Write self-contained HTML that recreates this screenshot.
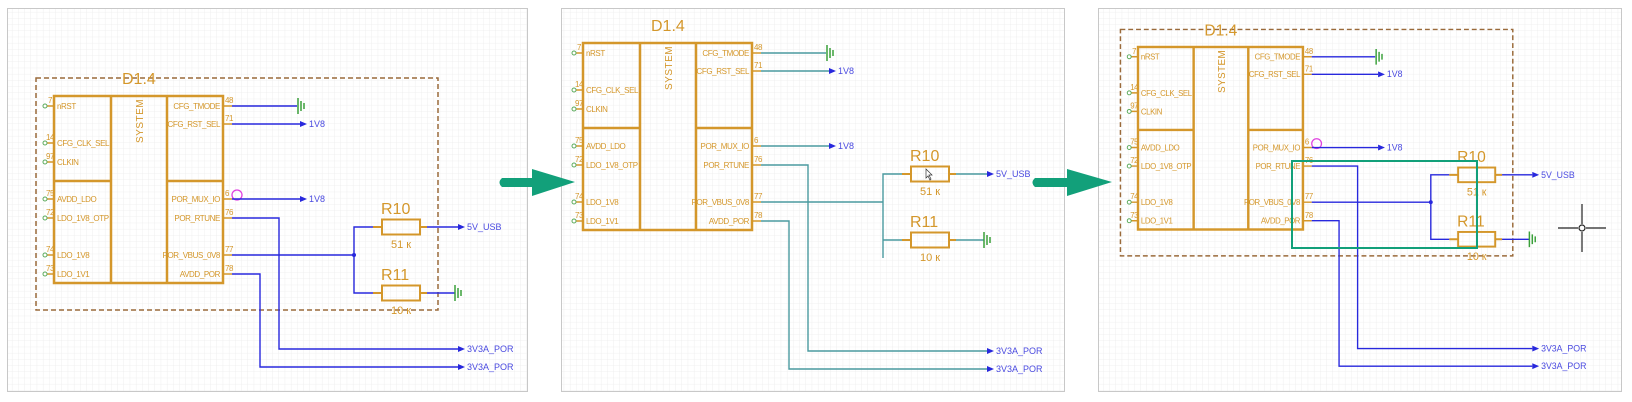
<!DOCTYPE html>
<html><head><meta charset="utf-8"><style>
html,body{margin:0;padding:0;background:#fff;}
svg{display:block}
text{font-family:"Liberation Sans",sans-serif;}
.o{fill:#d4972b}
.p{letter-spacing:-0.4px}
.nl{fill:#4a4ae0;font-size:9px}
</style></head><body>
<svg width="1632" height="402" viewBox="0 0 1632 402" xmlns="http://www.w3.org/2000/svg">
<defs>
<pattern id="g" width="6.2" height="6.2" patternUnits="userSpaceOnUse">
<path d="M6.2 0V6.2H0" fill="none" stroke="#ececec" stroke-width="0.8"/>
</pattern>
</defs>
<rect x="0" y="0" width="1632" height="402" fill="#fff"/>
<rect x="7.5" y="8.5" width="520" height="383" fill="url(#g)" stroke="#c8c8c8"/>
<rect x="561.5" y="8.5" width="503" height="383" fill="url(#g)" stroke="#c8c8c8"/>
<rect x="1098.5" y="8.5" width="523" height="383" fill="url(#g)" stroke="#c8c8c8"/>

<path d="M502 178 H532 V169 L575 182 L532 196 V187 H502 Q497 182.5 502 178Z" fill="#12a07a"/>
<path d="M1035 178 H1067 V169 L1112 182 L1067 196 V187 H1035 Q1030 182.5 1035 178Z" fill="#12a07a"/>

<!-- ===== PANEL 1 ===== -->
<g>
<rect x="36" y="78" width="402" height="232" fill="none" stroke="#9a6a3a" stroke-width="1.5" stroke-dasharray="5,3"/>
<text x="122" y="84" class="o" font-size="16">D1.4</text>
<g stroke="#d4972b" stroke-width="2.5" fill="none">
<rect x="54" y="96" width="169" height="187"/>
<path d="M111 96V283M167 96V283M54 181H111M167 181H223"/>
<path d="M46 106H54M46 143H54M46 162H54M46 199H54M46 218H54M46 255H54M46 274H54" stroke-width="1.5"/>
<path d="M223 106H232M223 124H232M223 199H232M223 218H232M223 255H232M223 274H232" stroke-width="1.5"/>
</g>
<g fill="#fff" stroke="#5aaa5a" stroke-width="1"><circle cx="45" cy="106" r="2"/><circle cx="45" cy="143" r="2"/><circle cx="45" cy="162" r="2"/><circle cx="45" cy="199" r="2"/><circle cx="45" cy="218" r="2"/><circle cx="45" cy="255" r="2"/><circle cx="45" cy="274" r="2"/></g>
<g class="o p" font-size="8">
<text x="57" y="109">nRST</text><text x="57" y="146">CFG_CLK_SEL</text><text x="57" y="165">CLKIN</text><text x="57" y="202">AVDD_LDO</text><text x="57" y="221">LDO_1V8_OTP</text><text x="57" y="258">LDO_1V8</text><text x="57" y="277">LDO_1V1</text>
<g text-anchor="end"><text x="220" y="109">CFG_TMODE</text><text x="220" y="127">CFG_RST_SEL</text><text x="220" y="202">POR_MUX_IO</text><text x="220" y="221">POR_RTUNE</text><text x="220" y="258">POR_VBUS_0V8</text><text x="220" y="277">AVDD_POR</text></g>
<g font-size="8"><text x="48" y="103">7</text><text x="46" y="140">14</text><text x="46" y="159">97</text><text x="46" y="196">75</text><text x="46" y="215">72</text><text x="46" y="252">74</text><text x="46" y="271">73</text>
<text x="225" y="103">48</text><text x="225" y="121">71</text><text x="225" y="196">6</text><text x="225" y="215">76</text><text x="225" y="252">77</text><text x="225" y="271">78</text></g>
<text transform="translate(143,143) rotate(-90)" font-size="10" letter-spacing="0.5">SYSTEM</text>
</g>
<circle cx="237" cy="195" r="5" fill="none" stroke="#e040e0" stroke-width="1.3"/>
<g stroke="#2828dd" stroke-width="1.4" fill="none">
<path d="M232 106H297M232 124H300M232 199H300M232 218H279V349H458M232 274H260V367H458M232 255H354M373 227H354V293H373M427 227H458M427 293H455"/>
</g>
<circle cx="354" cy="255" r="2" fill="#2828dd"/>
<g fill="#2828dd"><path d="M300 121L307 124L300 127Z"/><path d="M300 196L307 199L300 202Z"/><path d="M458 346L465 349L458 352Z"/><path d="M458 364L465 367L458 370Z"/><path d="M458 224L465 227L458 230Z"/></g>
<g stroke="#3aa03a" stroke-width="1.5"><path d="M298 98V114M301 101V111M304 103V109M455 285V301M458 288V298M461 290V296"/></g>
<g stroke="#d4972b" stroke-width="2" fill="none"><rect x="382" y="219.5" width="38" height="15"/><rect x="382" y="285.5" width="38" height="15"/><path d="M373 227H382M420 227H427M373 293H382M420 293H427"/></g>
<text x="381" y="214" class="o" font-size="16">R10</text><text x="391" y="248" class="o" font-size="11">51 к</text>
<text x="381" y="280" class="o" font-size="16">R11</text><text x="391" y="314" class="o" font-size="11">10 к</text>
<g class="nl"><text x="309" y="127">1V8</text><text x="309" y="202">1V8</text><text x="467" y="230">5V_USB</text><text x="467" y="352">3V3A_POR</text><text x="467" y="370">3V3A_POR</text></g>
</g>

<!-- ===== PANEL 2 ===== -->
<g transform="translate(529,-53)">
<text x="122" y="84" class="o" font-size="16">D1.4</text>
<g stroke="#d4972b" stroke-width="2.5" fill="none">
<rect x="54" y="96" width="169" height="187"/>
<path d="M111 96V283M167 96V283M54 181H111M167 181H223"/>
<path d="M46 106H54M46 143H54M46 162H54M46 199H54M46 218H54M46 255H54M46 274H54" stroke-width="1.5"/>
<path d="M223 106H232M223 124H232M223 199H232M223 218H232M223 255H232M223 274H232" stroke-width="1.5"/>
</g>
<g fill="#fff" stroke="#5aaa5a" stroke-width="1"><circle cx="45" cy="106" r="2"/><circle cx="45" cy="143" r="2"/><circle cx="45" cy="162" r="2"/><circle cx="45" cy="199" r="2"/><circle cx="45" cy="218" r="2"/><circle cx="45" cy="255" r="2"/><circle cx="45" cy="274" r="2"/></g>
<g class="o p" font-size="8">
<text x="57" y="109">nRST</text><text x="57" y="146">CFG_CLK_SEL</text><text x="57" y="165">CLKIN</text><text x="57" y="202">AVDD_LDO</text><text x="57" y="221">LDO_1V8_OTP</text><text x="57" y="258">LDO_1V8</text><text x="57" y="277">LDO_1V1</text>
<g text-anchor="end"><text x="220" y="109">CFG_TMODE</text><text x="220" y="127">CFG_RST_SEL</text><text x="220" y="202">POR_MUX_IO</text><text x="220" y="221">POR_RTUNE</text><text x="220" y="258">POR_VBUS_0V8</text><text x="220" y="277">AVDD_POR</text></g>
<g font-size="8"><text x="48" y="103">7</text><text x="46" y="140">14</text><text x="46" y="159">97</text><text x="46" y="196">75</text><text x="46" y="215">72</text><text x="46" y="252">74</text><text x="46" y="271">73</text>
<text x="225" y="103">48</text><text x="225" y="121">71</text><text x="225" y="196">6</text><text x="225" y="215">76</text><text x="225" y="252">77</text><text x="225" y="271">78</text></g>
<text transform="translate(143,143) rotate(-90)" font-size="10" letter-spacing="0.5">SYSTEM</text>
</g>
<g stroke="#4a9a9f" stroke-width="1.4" fill="none">
<path d="M232 106H297M232 124H300M232 199H300M232 218H279V404H458M232 274H260V422H458M232 255H354M373 227H354V311M354 293H373M427 227H458M427 293H455"/>
</g>
<g fill="#2828dd"><path d="M300 121L307 124L300 127Z"/><path d="M300 196L307 199L300 202Z"/><path d="M458 401L465 404L458 407Z"/><path d="M458 419L465 422L458 425Z"/><path d="M458 224L465 227L458 230Z"/></g>
<g stroke="#3aa03a" stroke-width="1.5"><path d="M298 98V114M301 101V111M304 103V109M455 285V301M458 288V298M461 290V296"/></g>
<g stroke="#d4972b" stroke-width="2" fill="none"><rect x="382" y="219.5" width="38" height="15"/><rect x="382" y="285.5" width="38" height="15"/><path d="M373 227H382M420 227H427M373 293H382M420 293H427"/></g>
<path d="M397 222V231L399 229L401 233L402 232L400 228H403Z" fill="#fff" stroke="#333" stroke-width="0.7"/>
<text x="381" y="214" class="o" font-size="16">R10</text><text x="391" y="248" class="o" font-size="11">51 к</text>
<text x="381" y="280" class="o" font-size="16">R11</text><text x="391" y="314" class="o" font-size="11">10 к</text>
<g class="nl"><text x="309" y="127">1V8</text><text x="309" y="202">1V8</text><text x="467" y="230">5V_USB</text><text x="467" y="407">3V3A_POR</text><text x="467" y="425">3V3A_POR</text></g>
</g>

<!-- ===== PANEL 3 ===== -->
<g transform="translate(1085.3,-46.7) scale(0.976)">
<rect x="36" y="78" width="402" height="232" fill="none" stroke="#9a6a3a" stroke-width="1.5" stroke-dasharray="5,3"/>
<text x="122" y="84" class="o" font-size="16">D1.4</text>
<g stroke="#d4972b" stroke-width="2.5" fill="none">
<rect x="54" y="96" width="169" height="187"/>
<path d="M111 96V283M167 96V283M54 181H111M167 181H223"/>
<path d="M46 106H54M46 143H54M46 162H54M46 199H54M46 218H54M46 255H54M46 274H54" stroke-width="1.5"/>
<path d="M223 106H232M223 124H232M223 199H232M223 218H232M223 255H232M223 274H232" stroke-width="1.5"/>
</g>
<g fill="#fff" stroke="#5aaa5a" stroke-width="1"><circle cx="45" cy="106" r="2"/><circle cx="45" cy="143" r="2"/><circle cx="45" cy="162" r="2"/><circle cx="45" cy="199" r="2"/><circle cx="45" cy="218" r="2"/><circle cx="45" cy="255" r="2"/><circle cx="45" cy="274" r="2"/></g>
<g class="o p" font-size="8">
<text x="57" y="109">nRST</text><text x="57" y="146">CFG_CLK_SEL</text><text x="57" y="165">CLKIN</text><text x="57" y="202">AVDD_LDO</text><text x="57" y="221">LDO_1V8_OTP</text><text x="57" y="258">LDO_1V8</text><text x="57" y="277">LDO_1V1</text>
<g text-anchor="end"><text x="220" y="109">CFG_TMODE</text><text x="220" y="127">CFG_RST_SEL</text><text x="220" y="202">POR_MUX_IO</text><text x="220" y="221">POR_RTUNE</text><text x="220" y="258">POR_VBUS_0V8</text><text x="220" y="277">AVDD_POR</text></g>
<g font-size="8"><text x="48" y="103">7</text><text x="46" y="140">14</text><text x="46" y="159">97</text><text x="46" y="196">75</text><text x="46" y="215">72</text><text x="46" y="252">74</text><text x="46" y="271">73</text>
<text x="225" y="103">48</text><text x="225" y="121">71</text><text x="225" y="196">6</text><text x="225" y="215">76</text><text x="225" y="252">77</text><text x="225" y="271">78</text></g>
<text transform="translate(143,143) rotate(-90)" font-size="10" letter-spacing="0.5">SYSTEM</text>
</g>
<circle cx="237" cy="195" r="5" fill="none" stroke="#e040e0" stroke-width="1.3"/>
<g stroke="#2828dd" stroke-width="1.4" fill="none">
<path d="M232 106H297M232 124H300M232 199H300M232 218H279V405H458M232 274H260V423H458M232 255H354M373 227H354V293H373M427 227H458M427 293H455"/>
</g>
<circle cx="354" cy="255" r="2" fill="#2828dd"/>
<g fill="#2828dd"><path d="M300 121L307 124L300 127Z"/><path d="M300 196L307 199L300 202Z"/><path d="M458 402L465 405L458 408Z"/><path d="M458 420L465 423L458 426Z"/><path d="M458 224L465 227L458 230Z"/></g>
<g stroke="#3aa03a" stroke-width="1.5"><path d="M298 98V114M301 101V111M304 103V109M455 285V301M458 288V298M461 290V296"/></g>
<g stroke="#d4972b" stroke-width="2" fill="none"><rect x="382" y="219.5" width="38" height="15"/><rect x="382" y="285.5" width="38" height="15"/><path d="M373 227H382M420 227H427M373 293H382M420 293H427"/></g>
<text x="381" y="214" class="o" font-size="16">R10</text><text x="391" y="248" class="o" font-size="11">51 к</text>
<text x="381" y="280" class="o" font-size="16">R11</text><text x="391" y="314" class="o" font-size="11">10 к</text>
<g class="nl"><text x="309" y="127">1V8</text><text x="309" y="202">1V8</text><text x="467" y="230">5V_USB</text><text x="467" y="408">3V3A_POR</text><text x="467" y="426">3V3A_POR</text></g>
</g>
<rect x="1292" y="161" width="185" height="87" fill="none" stroke="#12a07a" stroke-width="2"/>
<g stroke="#222" stroke-width="1.2" fill="none"><path d="M1558 228H1578M1586 228H1606M1582 204V224M1582 232V252"/><circle cx="1582" cy="228" r="3"/></g>
</svg>
</body></html>
